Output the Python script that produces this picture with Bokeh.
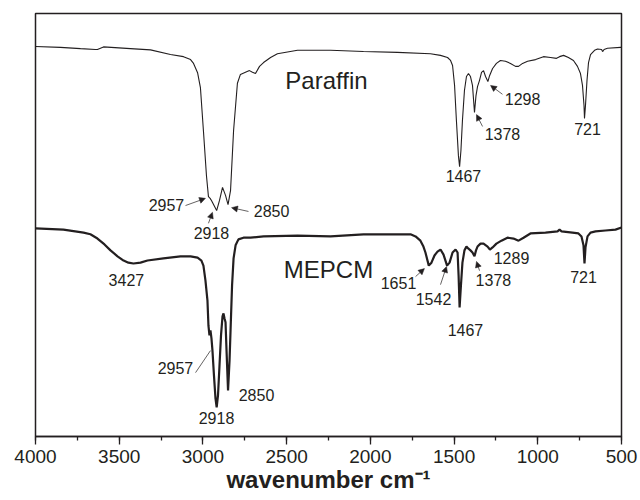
from bokeh.plotting import figure
from bokeh.models import Range1d, SingleIntervalTicker, Arrow, NormalHead, ColumnDataSource
from bokeh.core.properties import value
from bokeh.embed import file_html
from bokeh.resources import INLINE

# ---------------- data (wavenumber cm-1, relative transmittance, offset traces) ----------------
paraffin_wn = [4000, 3851, 3731, 3642, 3630, 3594, 3433, 3313, 3194, 3116, 3074, 3056, 3032, 3015,
               2997, 2979, 2967, 2957, 2949, 2918, 2901, 2883, 2865, 2850, 2835, 2817, 2794, 2776,
               2746, 2722, 2704, 2686, 2662, 2638, 2596, 2555, 2435, 2238, 2041, 1838, 1641, 1581,
               1539, 1521, 1509, 1497, 1486, 1474, 1467, 1459, 1450, 1438, 1426, 1414, 1402, 1390,
               1378, 1369, 1360, 1348, 1336, 1324, 1312, 1298, 1288, 1270, 1247, 1223, 1193, 1163,
               1133, 1115, 1091, 1061, 1013, 966, 924, 888, 870, 846, 817, 787, 763, 745, 733, 724,
               721, 715, 706, 697, 685, 661, 643, 619, 613, 604, 584, 506, 500]
paraffin_t = [92.2, 92.0, 91.7, 91.5, 91.5, 92.1, 91.7, 91.4, 90.3, 89.8, 89.1, 88.2, 86.0, 82.5,
              72.3, 61.7, 56.7, 56.3, 55.8, 53.4, 55.8, 58.9, 57.0, 54.8, 58.2, 72.3, 83.5, 85.6,
              86.1, 86.5, 86.1, 85.8, 87.5, 88.4, 89.6, 90.5, 91.3, 91.3, 91.0, 90.8, 90.5, 90.1,
              89.6, 88.9, 87.7, 83.0, 74.7, 66.4, 63.8, 67.6, 74.7, 81.8, 85.1, 85.8, 85.1, 83.0,
              76.6, 80.6, 82.7, 84.2, 86.1, 86.5, 85.1, 83.9, 85.3, 87.0, 88.2, 88.9, 88.7, 88.2,
              87.5, 87.5, 88.2, 88.7, 89.1, 89.8, 89.6, 89.4, 89.8, 90.1, 89.6, 88.9, 87.5, 85.8,
              83.0, 78.3, 75.2, 78.3, 84.2, 88.4, 90.3, 91.3, 91.6, 91.5, 91.0, 91.5, 91.8, 92.0, 92.0]

mepcm_wn = [4000, 3833, 3713, 3672, 3630, 3588, 3552, 3510, 3474, 3445, 3415, 3373, 3331, 3236,
            3134, 3074, 3032, 3009, 2997, 2985, 2973, 2967, 2961, 2955, 2949, 2943, 2934, 2925,
            2918, 2910, 2901, 2892, 2883, 2877, 2871, 2865, 2859, 2850, 2841, 2835, 2826, 2817,
            2805, 2788, 2758, 2716, 2638, 2435, 2238, 2041, 1820, 1760, 1730, 1701, 1683, 1671,
            1651, 1635, 1617, 1599, 1581, 1563, 1542, 1527, 1509, 1491, 1479, 1473, 1467, 1459,
            1450, 1438, 1426, 1414, 1402, 1390, 1378, 1369, 1360, 1342, 1324, 1300, 1286, 1270,
            1247, 1217, 1181, 1145, 1115, 1085, 1044, 954, 882, 870, 858, 793, 757, 739, 727,
            721, 715, 703, 685, 655, 596, 536, 500]
mepcm_t = [49.2, 48.9, 48.2, 47.8, 46.8, 45.4, 44.0, 42.6, 41.6, 41.1, 40.9, 41.1, 41.6, 42.1,
           42.6, 42.6, 42.3, 41.6, 40.4, 36.9, 32.2, 26.2, 23.9, 25.1, 23.2, 20.3, 14.4, 9.0,
           6.9, 9.7, 16.8, 23.9, 28.4, 29.1, 27.9, 27.0, 20.3, 10.9, 18.0, 25.1, 35.7, 42.1,
           45.2, 46.6, 47.0, 47.0, 47.3, 47.5, 47.3, 47.8, 47.8, 47.8, 47.3, 46.3, 44.9, 43.5,
           40.4, 41.1, 42.8, 43.7, 44.2, 43.0, 40.4, 41.1, 43.5, 44.2, 43.5, 38.1, 30.5, 35.7,
           41.1, 44.0, 44.9, 44.4, 44.0, 43.5, 42.6, 44.0, 44.9, 45.6, 45.6, 44.9, 44.2, 44.7,
           45.6, 46.3, 47.0, 46.8, 46.3, 47.0, 48.0, 48.2, 48.5, 48.9, 48.5, 48.2, 48.0, 47.3, 45.2,
           40.9, 44.7, 47.3, 48.2, 48.5, 48.7, 48.9, 49.4]

series_names = ["Paraffin", "MEPCM"]
x_title = "wavenumber cm\u207b\u00b9"

# peak annotations: text and anchor (wavenumber, level)
peak_text = ["2957", "2918", "2850", "1467", "1378", "1298", "721",
             "3427", "2957", "2918", "2850", "1651", "1542", "1467", "1378", "1289", "721"]
peak_x = [3218, 2949, 2590, 1444, 1211, 1091, 703,
          3457, 3164, 2919, 2680, 1832, 1623, 1432, 1265, 1157, 727]
peak_y = [54.8, 48.2, 53.4, 61.5, 71.4, 79.9, 72.8,
          37.1, 16.1, 4.3, 9.9, 36.4, 32.6, 25.1, 36.9, 42.3, 37.6]

# pointer lines: start (near label) -> end (at band)
ptr_x0 = [3104, 2967, 2728, 1330, 1211, 3044, 1730, 1581, 1348]
ptr_y0 = [54.6, 50.4, 53.2, 73.3, 80.9, 15.1, 37.8, 35.9, 39.2]
ptr_x1 = [2985, 2943, 2829, 1366, 1282, 2955, 1677, 1545, 1366]
ptr_y1 = [56.3, 53.0, 54.1, 76.1, 83.0, 20.3, 39.7, 40.2, 41.4]
ptr_head = [True, True, True, True, True, False, True, True, True]

# series name labels
name_x = [2262, 2250]
name_y = [84.2, 39.5]

INK = "#231f20"
FONT = "Liberation Sans"

p = figure(width=640, height=500, output_backend="svg", toolbar_location=None,
           x_range=Range1d(4000, 500), y_range=Range1d(0, 100),
           y_axis_location=None, min_border_left=35, min_border_right=19,
           min_border_top=13, min_border_bottom=64)
p.outline_line_color = INK
p.outline_line_width = 1.5
p.xgrid.visible = False
p.ygrid.visible = False
p.background_fill_color = "white"
p.border_fill_color = "white"

ax = p.xaxis[0]
ax.ticker = SingleIntervalTicker(interval=500, num_minor_ticks=2)
ax.axis_line_color = INK
ax.axis_line_width = 1.5
ax.major_tick_line_color = INK
ax.major_tick_line_width = 1.3
ax.minor_tick_line_color = INK
ax.minor_tick_line_width = 1.3
ax.major_tick_out = 8
ax.major_tick_in = 0
ax.minor_tick_out = 4
ax.minor_tick_in = 0
ax.major_label_text_font = FONT
ax.major_label_text_font_size = "19px"
ax.major_label_text_color = INK
ax.major_label_standoff = 5
ax.axis_label = x_title
ax.axis_label_text_font = FONT
ax.axis_label_text_font_size = "24px"
ax.axis_label_text_font_style = "bold"
ax.axis_label_text_color = INK
ax.axis_label_standoff = 0

p.line(paraffin_wn, paraffin_t, line_color=INK, line_width=1.1)
p.line(mepcm_wn, mepcm_t, line_color=INK, line_width=2.2)

src = ColumnDataSource(dict(x=peak_x, y=peak_y, t=peak_text))
p.text(x="x", y="y", text="t", source=src, text_font=value(FONT), text_font_size="16px",
       text_color=INK, text_align="center", text_baseline="middle")

nsrc = ColumnDataSource(dict(x=name_x, y=name_y, t=series_names))
p.text(x="x", y="y", text="t", source=nsrc, text_font=value(FONT), text_font_size="24px",
       text_color=INK, text_align="center", text_baseline="middle")

for x0, y0, x1, y1, h in zip(ptr_x0, ptr_y0, ptr_x1, ptr_y1, ptr_head):
    head = NormalHead(size=6, fill_color=INK, line_color=INK, line_width=0.5) if h else None
    p.add_layout(Arrow(x_start=x0, y_start=y0, x_end=x1, y_end=y1, end=head,
                       line_color=INK, line_width=0.7))

open("out.html", "w").write(file_html(p, INLINE))
